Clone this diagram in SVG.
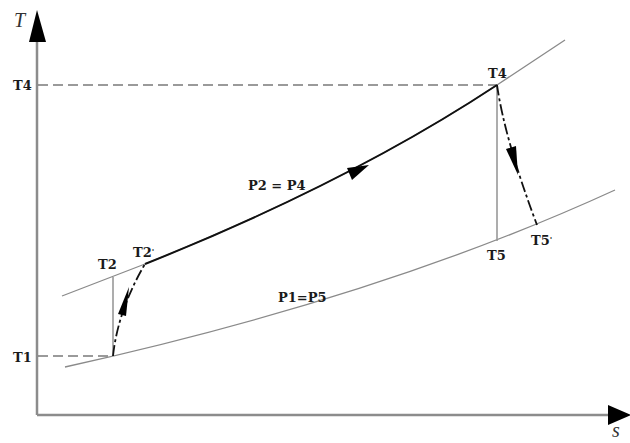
<svg xmlns="http://www.w3.org/2000/svg" width="630" height="443" viewBox="0 0 630 443">
<style>
.ax{stroke:#8c8c8c;stroke-width:2.5;fill:none}
.iso{stroke:#8a8a8a;stroke-width:1.3;fill:none}
.ref{stroke:#7a7a7a;stroke-width:1.3;fill:none;stroke-dasharray:10 5}
.vl{stroke:#999;stroke-width:1.6;fill:none}
.proc{stroke:#111;stroke-width:2;fill:none}
.dd{stroke:#111;stroke-width:1.8;fill:none;stroke-dasharray:11 3 3 3}
.ah{fill:#000}
.lb{font-family:"DejaVu Serif",serif;font-weight:bold;font-size:13px;fill:#1a1a1a}
.axl{font-family:"Liberation Serif",serif;font-style:italic;font-size:20px;fill:#333}
</style>
<rect width="630" height="443" fill="#fff"/>
<g id="axes">
<path class="ax" d="M37,415 V36 M37,415 H612"/>
<polygon class="ah" points="37,10 29,42 46,42"/>
<polygon class="ah" points="631,415 608,405 608,425"/>
<text class="axl" x="612" y="437" font-size="15">s</text>
<text class="axl" x="14" y="27">T</text>
</g>
<g id="connectors">
<path class="ref" d="M38,85 H497"/>
<path class="ref" d="M38,356 H113"/>
<path id="isobar-high" class="iso" d="M62,296 L145,264 Q350,182 497,85 L565,40"/>
<path id="isobar-low" class="iso" d="M65,367 Q382,297 615,190"/>
<path class="vl" d="M113,356 V277"/>
<path class="vl" d="M497,85 V241"/>
<path id="compress" class="dd" d="M113,356 Q118,310 145,264"/>
<polygon class="ah" points="129,287 118,314 126,316"/>
<path id="heat" class="proc" d="M145,264 Q350,182 497,85"/>
<polygon class="ah" points="369,165 347,168 352,180"/>
<path id="expand" class="dd" d="M497,85 Q505,140 537,225"/>
<polygon class="ah" points="518,175 506,149 516,146"/>
</g>
<g id="labels">
<g id="T4-axis"><text class="lb" x="13" y="90">T4</text></g>
<g id="T4"><text class="lb" x="488" y="78">T4</text></g>
<g id="T2"><text class="lb" x="98" y="269">T2</text></g>
<g id="T2p"><text class="lb" x="133" y="257">T2<tspan font-size="8" dy="-3">'</tspan></text></g>
<g id="T1"><text class="lb" x="13" y="362">T1</text></g>
<g id="T5"><text class="lb" x="487" y="260">T5</text></g>
<g id="T5p"><text class="lb" x="531" y="245">T5<tspan font-size="8" dy="-3">'</tspan></text></g>
<g id="P2P4"><text class="lb" x="248" y="190">P2 = P4</text></g>
<g id="P1P5"><text class="lb" x="278" y="302">P1=P5</text></g>
</g>
</svg>
